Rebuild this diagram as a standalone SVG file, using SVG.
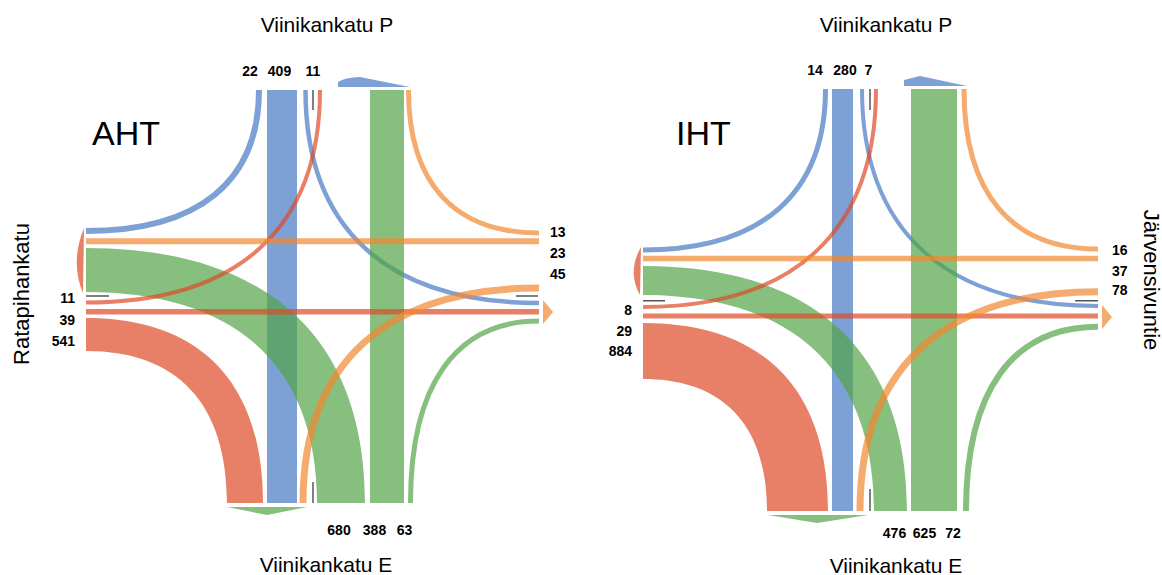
<svg xmlns="http://www.w3.org/2000/svg" width="1162" height="575" viewBox="0 0 1162 575">
<style>
text{font-family:"Liberation Sans",Arial,sans-serif;fill:#000}
.t{font-size:21px}
.v{font-size:22px}
.big{font-size:34px}
.n{font-size:14px;font-weight:bold}
.e{text-anchor:end}
.m{text-anchor:middle}
.bs{fill:none;stroke:#4678C3;stroke-opacity:.7}
.rs{fill:none;stroke:#DE4A27;stroke-opacity:.7}
.gs{fill:none;stroke:#52A447;stroke-opacity:.7}
.os{fill:none;stroke:#F28830;stroke-opacity:.7}
.bf{fill:#4678C3;fill-opacity:.7}
.rf{fill:#DE4A27;fill-opacity:.7}
.gf{fill:#52A447;fill-opacity:.7}
.of{fill:#F28830;fill-opacity:.7}
.gr{stroke:#555;stroke-width:1.5;fill:none}
</style>
<rect width="1162" height="575" fill="#fff"/>

<g id="aht">
  <g id="aht-flows">
    <path class="bs" stroke-width="6" d="M259,90 C259,182 198,231 86,231"/>
    <rect class="bf" x="267" y="90" width="30" height="413"/>
    <path class="bs" stroke-width="4.5" d="M305.5,90 C305.5,228.5 387,303 539,303"/>
    <rect class="gf" x="370" y="90" width="34" height="413"/>
    <path class="gf" d="M86,248 C267,248 365,337 365,503 L317,503 C317,366 236,292 86,292 Z"/>
    <path class="gs" stroke-width="5" d="M410.5,503 C410.5,385 455.5,321 539,321"/>
    <path class="rs" stroke-width="4" d="M86,302.5 C238,302.5 320,228 320,90"/>
    <path class="rs" stroke-width="5.5" d="M86,311.7 H539"/>
    <path class="rf" d="M86,318 C201,318 263,383 263,503 L227,503 C227,404 178,351 86,351 Z"/>
    <path class="os" stroke-width="5" d="M408.5,90 C408.5,183 454,233 539,233"/>
    <path class="os" stroke-width="6" d="M86,241.3 H539"/>
    <path class="os" stroke-width="7" d="M539,288 C385.6,288 303,363 303,503"/>
    <path class="gr" d="M313,90 V110 M313,482 V503 M86,296 H109 M516,296 H538"/>
  </g>
  <g id="aht-arrows">
    <path class="bf" d="M338,87 L338,82 Q345,77.5 360,77 L410,87 Z"/>
    <path class="rf" d="M84,228 Q70,262 83,293 Z"/>
    <path class="of" d="M543,300 L553,312 L543,324 Z"/>
    <path class="gf" d="M227,507 L307,507 L267,515 Z"/>
  </g>
  <g id="aht-labels">
    <text class="t m" x="327" y="32">Viinikankatu P</text>
    <text class="t m" x="326" y="572">Viinikankatu E</text>
    <text class="v m" transform="translate(29,294) rotate(-90)">Ratapihankatu</text>
    <text class="big" x="92" y="145">AHT</text>
    <text class="n m" x="250" y="76">22</text>
    <text class="n m" x="279.5" y="76">409</text>
    <text class="n m" x="313" y="76">11</text>
    <text class="n" x="550" y="237">13</text>
    <text class="n" x="550" y="258">23</text>
    <text class="n" x="550" y="279">45</text>
    <text class="n e" x="75" y="303">11</text>
    <text class="n e" x="75" y="325">39</text>
    <text class="n e" x="75" y="346">541</text>
    <text class="n m" x="339" y="535">680</text>
    <text class="n m" x="374.5" y="535">388</text>
    <text class="n m" x="404.5" y="535">63</text>
  </g>
</g>

<g id="iht">
  <g id="iht-flows">
    <path class="bs" stroke-width="5" d="M825.5,89 C825.5,193.7 761.6,250 643,250"/>
    <rect class="bf" x="832" y="89" width="21" height="422"/>
    <path class="bs" stroke-width="4" d="M862,89 C862,230 944.6,306 1098,306"/>
    <rect class="gf" x="911" y="89" width="46" height="422"/>
    <path class="gf" d="M643,266 C814.6,266 907,351.75 907,511 L874,511 C874,370.6 793.15,295 643,295 Z"/>
    <path class="gs" stroke-width="6" d="M966,511 C966,391.2 1012.2,326.7 1098,326.7"/>
    <path class="rs" stroke-width="4" d="M643,307 C794.5,307 876,230.7 876,89"/>
    <path class="rs" stroke-width="5.2" d="M643,316 H1098"/>
    <path class="rf" d="M643,323 C763.25,323 828,388.8 828,511 L767,511 C767,425.2 723.6,379 643,379 Z"/>
    <path class="os" stroke-width="5" d="M964,89 C964,193 1010.9,249 1098,249"/>
    <path class="os" stroke-width="5.5" d="M643,258.5 H1098"/>
    <path class="os" stroke-width="7" d="M1098,291.7 C943.3,291.7 860,368.5 860,511"/>
    <path class="gr" d="M870,89 V110 M870,489 V511 M643,300.7 H665 M1075,300.7 H1098"/>
  </g>
  <g id="iht-arrows">
    <path class="bf" d="M904,86 L904,80 L920,76 L967,86 Z"/>
    <path class="rf" d="M641,247 Q627,272 640,295 Z"/>
    <path class="of" d="M1102,305 L1112,317 L1102,329 Z"/>
    <path class="gf" d="M768,515 L868,515 L817,523 Z"/>
  </g>
  <g id="iht-labels">
    <text class="t m" x="886" y="32">Viinikankatu P</text>
    <text class="t m" x="896" y="573">Viinikankatu E</text>
    <text class="v m" transform="translate(1144,280) rotate(90)">Järvensivuntie</text>
    <text class="big" x="676" y="145">IHT</text>
    <text class="n m" x="815" y="75">14</text>
    <text class="n m" x="845" y="75">280</text>
    <text class="n m" x="868.5" y="75">7</text>
    <text class="n" x="1112" y="255">16</text>
    <text class="n" x="1112" y="276">37</text>
    <text class="n" x="1112" y="295">78</text>
    <text class="n e" x="632" y="315">8</text>
    <text class="n e" x="632" y="336">29</text>
    <text class="n e" x="632" y="356">884</text>
    <text class="n m" x="894.5" y="538">476</text>
    <text class="n m" x="924.5" y="538">625</text>
    <text class="n m" x="953" y="538">72</text>
  </g>
</g>
</svg>
